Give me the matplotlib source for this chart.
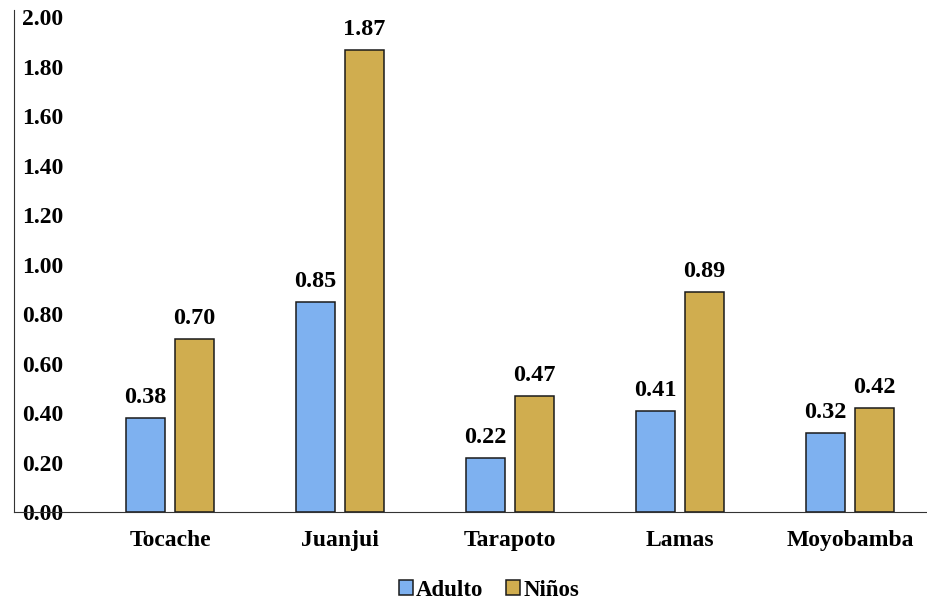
import matplotlib.pyplot as plt
import numpy as np

plt.rcParams['font.family'] = 'Liberation Serif'
plt.rcParams['font.weight'] = 'bold'

# data
ciudades = ["Tocache", "Juanjui", "Tarapoto", "Lamas", "Moyobamba"]
adulto = [0.38, 0.85, 0.22, 0.41, 0.32]
ninos = [0.70, 1.87, 0.47, 0.89, 0.42]

fig = plt.figure(figsize=(9.28, 6.03), dpi=100)
ax = fig.add_axes([14/928, 91/603, 914/928, 502/603])

x = np.arange(len(ciudades))
w = 0.229
off = 0.144
b1 = ax.bar(x - off, adulto, w, color='#7EB1F0', edgecolor='#1a1a1a', linewidth=1.1, label='Adulto')
b2 = ax.bar(x + off, ninos, w, color='#D0AD4F', edgecolor='#1a1a1a', linewidth=1.1, label='Niños')

for bars, vals in [(b1, adulto), (b2, ninos)]:
    for b, v in zip(bars, vals):
        ax.annotate(f"{v:.2f}", (b.get_x() + b.get_width()/2, v), xytext=(0, 7),
                    textcoords='offset points', ha='center', va='bottom',
                    fontsize=17.5, fontweight='bold')

ax.set_xlim(-0.918, 4.459)
ax.set_ylim(0, 2.03)
ax.set_xticks(x)
ax.set_xticklabels(ciudades, fontsize=17, fontweight='bold')
ax.tick_params(axis='x', length=0, pad=13)

yt = np.arange(0, 2.01, 0.2)
ax.set_yticks(yt)
ax.set_yticklabels([f"{v:.2f}" for v in yt], fontsize=17, fontweight='bold')
ax.tick_params(axis='y', length=0, pad=-6)
for lbl in ax.get_yticklabels():
    lbl.set_horizontalalignment('left')

ax.spines['top'].set_visible(False)
ax.spines['right'].set_visible(False)
ax.spines['left'].set_color('#333333')
ax.spines['bottom'].set_color('#333333')

fig.legend(loc='center', bbox_to_anchor=(489/928, 1 - 590/603), ncol=2, frameon=False,
           prop={'size': 16.5, 'weight': 'bold'}, handlelength=0.6, handleheight=0.6,
           handletextpad=0.15, columnspacing=1.0)

fig.savefig('out.png', dpi=100)
